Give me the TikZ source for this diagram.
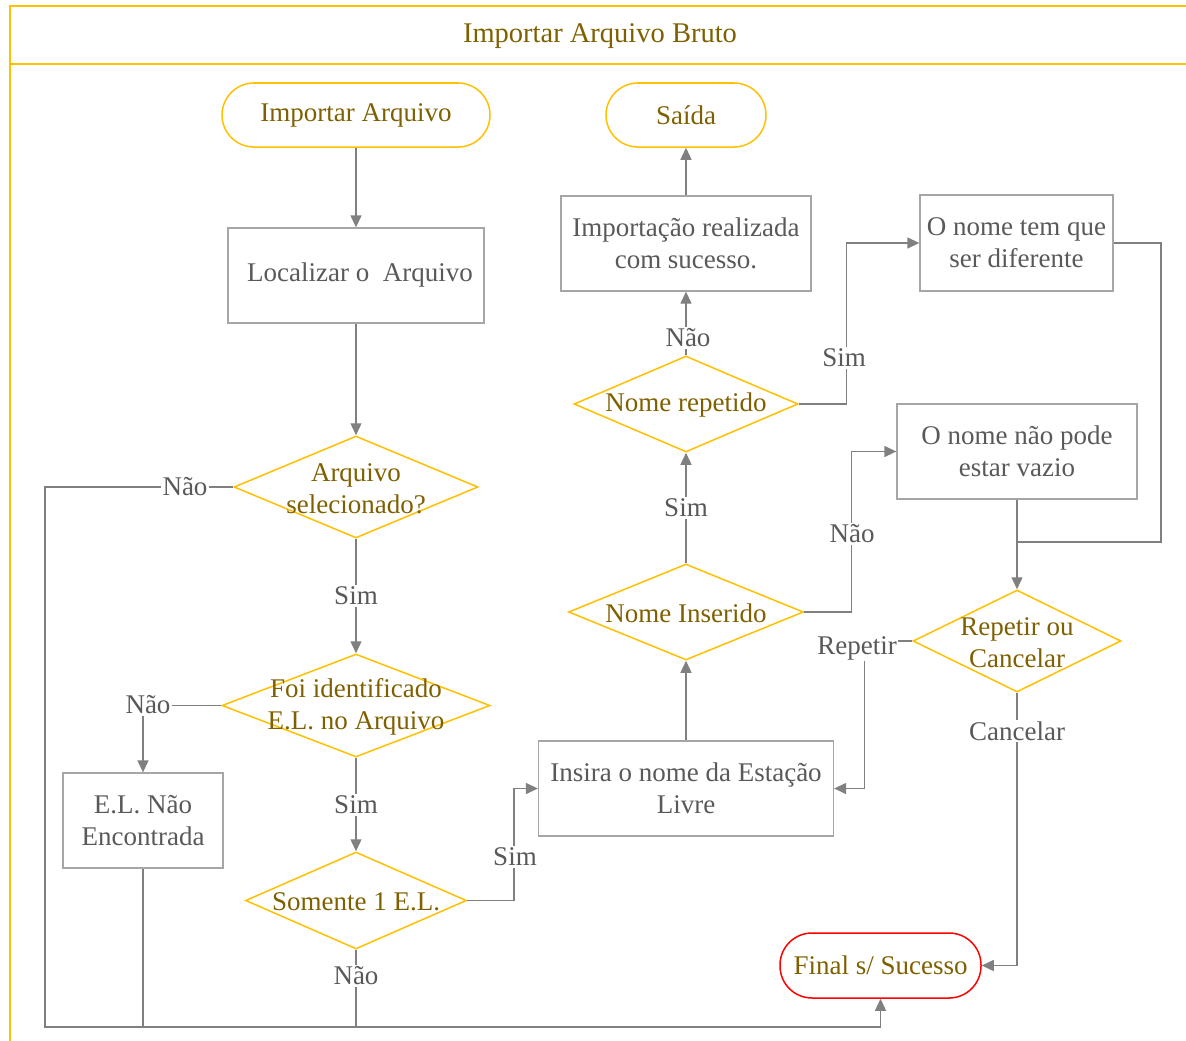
\documentclass[tikz,border=0pt]{standalone}
\usepackage{fontspec}
\setmainfont{Liberation Serif}
\usetikzlibrary{shapes.geometric,arrows.meta,calc}
\definecolor{gold}{HTML}{FFC000}
\definecolor{olive}{HTML}{7F6000}
\definecolor{txtgray}{HTML}{595959}
\definecolor{linegray}{HTML}{808080}
\definecolor{boxgray}{HTML}{A6A6A6}
\definecolor{stopred}{HTML}{FF0000}
\begin{document}
\begin{tikzpicture}[x=1pt,y=-1pt,
  font=\fontsize{27}{32}\selectfont,
  term/.style={draw=gold, line width=1.5pt, rounded corners=32pt,
    minimum height=64pt, text=olive, inner sep=0pt},
  stopterm/.style={term, draw=stopred, minimum height=65pt},
  dia/.style={shape=diamond, draw=gold, line width=1.5pt, inner sep=0pt},
  diatext/.style={text=olive, align=center, inner sep=0pt, yshift=-1.5pt},
  procbox/.style={draw=boxgray, line width=1.3pt, text=txtgray, align=center,
    inner sep=0pt, minimum height=95pt},
  conn/.style={draw=linegray, line width=1.3pt},
  arr/.style={conn, -{Triangle[length=12pt,width=11pt]}},
  lbl/.style={fill=white, text=txtgray, inner sep=1.5pt}
]
\useasboundingbox (0,0) rectangle (1186,1041);

% swimlane frame and title
\draw[gold, line width=2pt] (1186,6) -- (10,6) -- (10,1041);
\draw[gold, line width=2pt] (10,64) -- (1186,64);
\node[text=olive] (lane) at (600,36) {\fontsize{28.5}{32}\selectfont Importar Arquivo Bruto};

% terminals
\node[term, minimum width=268pt] (start) at (356,115) {Importar Arquivo};
\node[term, minimum width=160pt] (saida) at (686,115) {Saída};
\node[stopterm, minimum width=201pt] (final) at (880.5,965.5) {Final s/ Sucesso};

% process boxes
\node[procbox, minimum width=256pt] (loc) at (356,275.5) {\hspace*{8pt}Localizar o~ Arquivo};
\node[procbox, minimum width=160pt] (eln) at (143,820.5) {E.L. Não\\Encontrada};
\node[procbox, minimum width=295pt] (ins) at (686,788.5) {Insira o nome da Estação\\Livre};
\node[procbox, minimum width=250pt] (ok) at (686,243.5) {Importação realizada\\com sucesso.};
\node[procbox, minimum width=193pt, minimum height=96pt] (dif) at (1016.5,243) {O nome tem que\\ser diferente};
\node[procbox, minimum width=240pt] (vaz) at (1017,451.5) {O nome não pode\\estar vazio};

% decisions
\node[dia, minimum width=244pt, minimum height=102pt] (asel) at (356,487) {};
\node[diatext] (aselt) at (asel) {Arquivo\\selecionado?};
\node[dia, minimum width=268pt, minimum height=103pt] (fid) at (356,705.5) {};
\node[diatext] (fidt) at (fid) {Foi identificado\\E.L. no Arquivo};
\node[dia, minimum width=221pt, minimum height=97pt] (som) at (356,900.5) {};
\node[diatext] (somt) at (som) {Somente 1 E.L.};
\node[dia, minimum width=235pt, minimum height=96pt] (nins) at (686,612) {};
\node[diatext] (ninst) at (nins) {Nome Inserido};
\node[dia, minimum width=224pt, minimum height=96pt] (nrep) at (686,404) {};
\node[diatext] (nrept) at (nrep) {Nome repetido};
\node[dia, minimum width=208pt, minimum height=102pt] (rep) at (1017,641) {};
\node[diatext] (rept) at (rep) {Repetir ou\\Cancelar};

% connectors
\coordinate (bus) at (45,1027);
\draw[arr] (start.south) -- (loc.north);
\draw[arr] (loc.south) -- (asel.north);
\draw[arr] (asel.south) -- (fid.north);
\draw[arr] (asel.west) -| (bus) -| (final.south);
\draw[arr] (fid.west) -| (eln.north);
\draw[conn] (eln.south) -- (eln.south |- bus);
\draw[arr] (fid.south) -- (som.north);
\draw[conn] (som.south) -- (som.south |- bus);
\draw[arr] (som.east) -| ($(ins.west)+(-24,0)$) -- (ins.west);
\draw[arr] (ins.north) -- (nins.south);
\draw[arr] (nins.north) -- (nrep.south);
\draw[arr] (nrep.north) -- (ok.south);
\draw[arr] (ok.north) -- (saida.south);
\draw[arr] (nrep.east) -| ($(dif.west)+(-73,0)$) -- (dif.west);
\draw[arr] (nins.east) -| ($(vaz.west)+(-45,0)$) -- (vaz.west);
\draw[conn] (dif.east) -| (1161,542) -- (vaz.south |- 0,542);
\draw[arr] (vaz.south) -- (rep.north);
\draw[arr] (rep.west) -| ($(ins.east)+(30,0)$) -- (ins.east);
\draw[arr] (rep.south) |- (final.east);

% branch labels
\node[lbl] (l1) at (185,487) {Não};
\node[lbl] (l2) at (356,596) {Sim};
\node[lbl] (l3) at (148,705) {Não};
\node[lbl] (l4) at (356,805) {Sim};
\node[lbl] (l5) at (356,976) {Não};
\node[lbl] (l6) at (515,857) {Sim};
\node[lbl] (l7) at (686,508) {Sim};
\node[lbl] (l8) at (688,338) {Não};
\node[lbl] (l9) at (844,358) {Sim};
\node[lbl] (l10) at (852,534) {Não};
\node[lbl] (l11) at (857,648) {Repetir};
\node[lbl] (l12) at (1017,731) {Cancelar};
\end{tikzpicture}
\end{document}
